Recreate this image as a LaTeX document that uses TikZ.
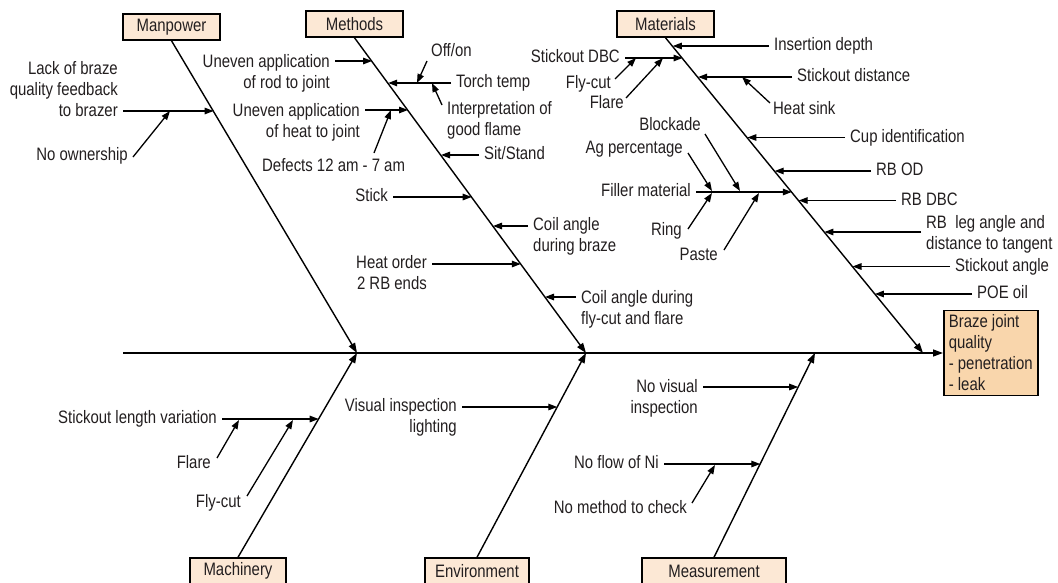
\documentclass[tikz,border=0pt]{standalone}
\usepackage{fontspec}
\setmainfont{Liberation Sans}[FakeStretch=0.83]
\usetikzlibrary{arrows.meta}
\definecolor{txt}{RGB}{35,31,32}
\definecolor{catfill}{RGB}{252,232,213}
\definecolor{efffill}{RGB}{249,214,172}
\begin{document}
\begin{tikzpicture}[x=1pt,y=-1pt,
  every node/.style={text=txt, font=\fontsize{18}{21}\selectfont},
  lab/.style={inner sep=0pt, text height=13pt, text depth=4pt},
  mlab/.style={inner sep=0pt},
  catbox/.style={draw=black, line width=1.5pt, fill=catfill, minimum height=26pt, inner sep=0pt},
  effbox/.style={draw=black, line width=1.5pt, fill=efffill, minimum height=85pt, minimum width=94pt, inner xsep=4pt, inner ysep=0pt, align=left},
  bone/.style={line width=1.4pt, -{Triangle[length=10pt,width=7pt]}},
  arr/.style={line width=1.3pt, -{Triangle[length=9pt,width=6.5pt]}},
  harr/.style={arr, shorten <=5pt}
]
\useasboundingbox[fill=white] (0,0) rectangle (1058,582);

% ---------- effect and category boxes ----------
\node[effbox, anchor=west] (eff) at (943,353) {Braze joint\\quality\\- penetration\\- leak};
\node[catbox, minimum width=97pt] (man) at (171.5,27) {Manpower};
\node[catbox, minimum width=97pt] (met) at (354.5,24) {Methods};
\node[catbox, minimum width=97pt] (mat) at (665.5,24) {Materials};
\node[catbox, minimum width=96pt] (mac) at (238,571) {Machinery};
\node[catbox, minimum width=104pt] (env) at (477,571) {Environment};
\node[catbox, minimum width=144pt] (mea) at (714,571) {Measurement};

% ---------- spine and bones ----------
\coordinate (sp0) at (123,353);
\coordinate (jMan) at (357,353);
\coordinate (jMet) at (586,353);
\coordinate (jMat) at (923,353);
\coordinate (jMac) at (357,353);
\coordinate (jEnv) at (586,353);
\coordinate (jMea) at (815,353);
\draw[bone] (sp0) -- (eff.west);
\draw[bone] (man.south) -- (jMan);
\draw[bone] (met.south) -- (jMet);
\draw[bone] (mat.south) -- (jMat);
\draw[bone] (mac.north) -- (jMac);
\draw[bone] (env.north) -- (jEnv);
\draw[bone] (mea.north) -- (jMea);

% ---------- Manpower ----------
\node[mlab, align=right, anchor=north east] (lack) at (118,61.5) {Lack of braze\\quality feedback\\to brazer};
\coordinate (tLack) at (213.6,111);
\draw[harr] (lack.east |- tLack) -- (tLack);
\node[lab, anchor=east] (own) at (128,155.5) {No ownership};
\coordinate (sOwn) at (133,157);
\coordinate (tOwn) at (170,111);
\draw[arr] (sOwn) -- (tOwn);

% ---------- Methods ----------
\node[mlab, align=right, anchor=north east] (rod) at (330,54.5) {Uneven application\\of rod to joint};
\coordinate (tRod) at (372.1,61);
\draw[harr] (rod.east |- tRod) -- (tRod);
\node[lab, anchor=west] (torch) at (456,83) {Torch temp};
\coordinate (tTorch) at (388.2,83);
\draw[harr] (torch.west) -- (tTorch);
\node[lab, anchor=west] (off) at (431,51.5) {Off/on};
\coordinate (sOff) at (427,61);
\coordinate (tOff) at (417,83);
\draw[arr] (sOff) -- (tOff);
\node[mlab, align=left, anchor=north west] (interp) at (447,101.5) {Interpretation of\\good flame};
\coordinate (sInt) at (442,105);
\coordinate (tInt) at (432,83);
\draw[arr] (sInt) -- (tInt);
\node[mlab, align=right, anchor=north east] (heat) at (360,103.5) {Uneven application\\of heat to joint};
\coordinate (tHeat) at (408,110);
\draw[harr] (heat.east |- tHeat) -- (tHeat);
\node[lab, anchor=west] (def) at (262,166.5) {Defects 12 am - 7 am};
\coordinate (sDef) at (374,153);
\coordinate (tDef) at (391,110);
\draw[arr] (sDef) -- (tDef);
\node[lab, anchor=west] (sit) at (484,155) {Sit/Stand};
\coordinate (tSit) at (441,155);
\draw[harr] (sit.west) -- (tSit);
\node[lab, anchor=east] (stick) at (388,197) {Stick};
\coordinate (tStick) at (471.7,197);
\draw[harr] (stick.east) -- (tStick);
\node[mlab, align=left, anchor=north west] (coilb) at (533,217.5) {Coil angle\\during braze};
\coordinate (tCoilb) at (493,226);
\draw[harr] (coilb.west |- tCoilb) -- (tCoilb);
\node[mlab, align=right, anchor=north east] (hord) at (427,255.5) {Heat order\\2 RB ends};
\coordinate (tHord) at (520.8,264);
\draw[harr] (hord.east |- tHord) -- (tHord);
\node[mlab, align=left, anchor=north west] (coilf) at (581,290.5) {Coil angle during\\fly-cut and flare};
\coordinate (tCoilf) at (545,297);
\draw[harr] (coilf.west |- tCoilf) -- (tCoilf);

% ---------- Materials ----------
\node[lab, anchor=west] (ins) at (774,46) {Insertion depth};
\coordinate (tIns) at (672.8,46);
\draw[harr] (ins.west) -- (tIns);
\node[lab, anchor=east] (sdbc) at (620,58) {Stickout DBC};
\coordinate (tSdbc) at (682.6,58);
\draw[harr] (sdbc.east) -- (tSdbc);
\node[lab, anchor=east] (fcut) at (611,83.5) {Fly-cut};
\coordinate (sFcut) at (615,79);
\coordinate (tFcut) at (636,58);
\draw[arr] (sFcut) -- (tFcut);
\node[lab, anchor=east] (flare) at (624,103.5) {Flare};
\coordinate (sFlare) at (626,98);
\coordinate (tFlare) at (663,58);
\draw[arr] (sFlare) -- (tFlare);
\node[lab, anchor=west] (sdist) at (797,77) {Stickout distance};
\coordinate (tSdist) at (698.1,77);
\draw[harr] (sdist.west) -- (tSdist);
\node[lab, anchor=west] (hsink) at (773,109.5) {Heat sink};
\coordinate (sHsink) at (770,103);
\coordinate (tHsink) at (742,77);
\draw[arr] (sHsink) -- (tHsink);
\node[lab, anchor=west] (cup) at (850,137.5) {Cup identification};
\coordinate (tCup) at (747.4,137.5);
\draw[harr] (cup.west) -- (tCup);
\node[lab, anchor=west] (rbod) at (876,171) {RB OD};
\coordinate (tRbod) at (774.7,171);
\draw[harr] (rbod.west) -- (tRbod);
\node[lab, anchor=west] (rbdbc) at (901,200.5) {RB DBC};
\coordinate (tRbdbc) at (798.7,200.5);
\draw[harr] (rbdbc.west) -- (tRbdbc);
\node[mlab, align=left, anchor=north west] (rbleg) at (926,215.5) {RB\ \ leg angle and\\distance to tangent};
\coordinate (tRbleg) at (824.4,232);
\draw[harr] (rbleg.west |- tRbleg) -- (tRbleg);
\node[lab, anchor=west] (sang) at (955,266.5) {Stickout angle};
\coordinate (tSang) at (852.5,266.5);
\draw[harr] (sang.west) -- (tSang);
\node[lab, anchor=west] (poe) at (977,294) {POE oil};
\coordinate (tPoe) at (874.9,294);
\draw[harr] (poe.west) -- (tPoe);
\node[lab, anchor=east] (fill) at (691,192) {Filler material};
\coordinate (tFill) at (791.8,192);
\draw[harr] (fill.east) -- (tFill);
\node[lab, anchor=east] (agp) at (683,148.5) {Ag percentage};
\coordinate (sAgp) at (688,153);
\coordinate (tAgp) at (712,191);
\draw[arr] (sAgp) -- (tAgp);
\node[lab, anchor=east] (block) at (701,125.5) {Blockade};
\coordinate (sBlock) at (705,134);
\coordinate (tBlock) at (740,191);
\draw[arr] (sBlock) -- (tBlock);
\node[lab, anchor=east] (ring) at (682,230.5) {Ring};
\coordinate (sRing) at (688,229);
\coordinate (tRing) at (712,193);
\draw[arr] (sRing) -- (tRing);
\node[lab, anchor=east] (paste) at (718,255.5) {Paste};
\coordinate (sPaste) at (724,250);
\coordinate (tPaste) at (759,193);
\draw[arr] (sPaste) -- (tPaste);

% ---------- Machinery ----------
\node[lab, anchor=east] (slv) at (217,419) {Stickout length variation};
\coordinate (tSlv) at (318.7,419);
\draw[harr] (slv.east) -- (tSlv);
\node[lab, anchor=east] (mflare) at (211,463.5) {Flare};
\coordinate (sMflare) at (217,458);
\coordinate (tMflare) at (239,420);
\draw[arr] (sMflare) -- (tMflare);
\node[lab, anchor=east] (mfly) at (241,502.5) {Fly-cut};
\coordinate (sMfly) at (247,496);
\coordinate (tMfly) at (293,420);
\draw[arr] (sMfly) -- (tMfly);

% ---------- Environment ----------
\node[mlab, align=right, anchor=north east] (vis) at (457,398.5) {Visual inspection\\lighting};
\coordinate (tVis) at (557.3,407);
\draw[harr] (vis.east |- tVis) -- (tVis);

% ---------- Measurement ----------
\node[mlab, align=right, anchor=north east] (novis) at (698,379.5) {No visual\\inspection};
\coordinate (tNovis) at (798.2,387);
\draw[harr] (novis.east |- tNovis) -- (tNovis);
\node[lab, anchor=east] (noflow) at (659,464) {No flow of Ni};
\coordinate (tNoflow) at (760.3,464);
\draw[harr] (noflow.east) -- (tNoflow);
\node[lab, anchor=east] (nometh) at (687,508.5) {No method to check};
\coordinate (sNometh) at (692,503);
\coordinate (tNometh) at (715,465);
\draw[arr] (sNometh) -- (tNometh);
\end{tikzpicture}
\end{document}
